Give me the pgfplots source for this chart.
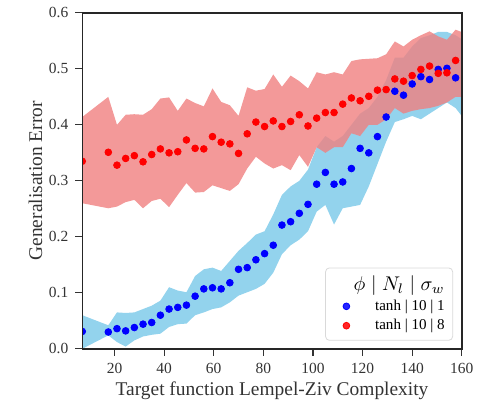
\documentclass[border=0pt]{standalone}
\usepackage{fontspec}
\setmainfont{Liberation Serif}
\usepackage{pgfplots}
\usepackage{pgfplotstable}
\pgfplotsset{compat=1.18}
\pgfplotsset{/pgf/number format/assume math mode=true}
\usepgfplotslibrary{fillbetween}
\definecolor{bandblue}{RGB}{135,206,235}
\definecolor{bandred}{RGB}{240,128,128}

\pgfplotstableread{
x     m      lo     hi
7     0.031  0.000  0.060
17.5  0.030  0.024  0.042
21    0.036  0.012  0.065
24.5  0.032  0.004  0.064
28    0.038  0.015  0.065
31.5  0.044  0.022  0.071
35    0.047  0.025  0.077
38.5  0.060  0.027  0.086
42    0.071  0.039  0.110
45.5  0.074  0.044  0.104
49    0.078  0.045  0.101
52.5  0.094  0.060  0.130
56    0.107  0.065  0.142
59.5  0.109  0.071  0.145
63    0.107  0.074  0.139
66.5  0.118  0.083  0.157
70    0.142  0.095  0.175
73.5  0.145  0.101  0.189
77    0.159  0.107  0.204
80.5  0.170  0.116  0.210
84    0.185  0.136  0.240
87.5  0.221  0.169  0.275
91    0.227  0.185  0.290
94.5  0.242  0.195  0.300
98    0.258  0.210  0.320
101.5 0.294  0.245  0.360
105   0.315  0.257  0.380
108.5 0.294  0.222  0.370
112   0.298  0.251  0.380
115.5 0.322  0.254  0.400
119   0.358  0.257  0.420
122.5 0.350  0.290  0.430
126   0.379  0.330  0.450
129.5 0.414  0.370  0.480
133   0.460  0.405  0.520
136.5 0.453  0.410  0.520
140   0.473  0.416  0.540
143.5 0.486  0.410  0.555
147   0.481  0.420  0.560
150.5 0.499  0.430  0.566
154   0.501  0.440  0.566
157.5 0.484  0.430  0.560
161   0.490  0.410  0.550
}\bluedata

\pgfplotstableread{
x     m      lo     hi
7     0.335  0.260  0.414
17.5  0.351  0.251  0.450
21    0.328  0.254  0.400
24.5  0.340  0.262  0.418
28    0.345  0.266  0.419
31.5  0.334  0.251  0.418
35    0.347  0.264  0.428
38.5  0.357  0.268  0.447
42    0.350  0.253  0.449
45.5  0.352  0.275  0.425
49    0.373  0.296  0.447
52.5  0.358  0.279  0.439
56    0.357  0.280  0.433
59.5  0.379  0.292  0.465
63    0.369  0.287  0.441
66.5  0.366  0.282  0.435
70    0.349  0.294  0.416
73.5  0.384  0.322  0.467
77    0.405  0.343  0.461
80.5  0.397  0.331  0.464
84    0.407  0.322  0.490
87.5  0.397  0.328  0.468
91    0.406  0.319  0.488
94.5  0.418  0.346  0.478
98    0.398  0.325  0.465
101.5 0.412  0.360  0.494
105   0.422  0.350  0.490
108.5 0.422  0.360  0.494
112   0.437  0.360  0.490
115.5 0.448  0.385  0.514
119   0.443  0.380  0.517
122.5 0.451  0.400  0.518
126   0.462  0.400  0.519
129.5 0.463  0.410  0.526
133   0.482  0.430  0.549
136.5 0.478  0.420  0.540
140   0.488  0.425  0.552
143.5 0.499  0.428  0.560
147   0.505  0.430  0.567
150.5 0.492  0.434  0.558
154   0.493  0.440  0.552
157.5 0.515  0.450  0.570
161   0.510  0.450  0.564
}\reddata

\begin{document}
\begin{tikzpicture}
\begin{axis}[
  scale only axis,
  width=191.5pt, height=169.5pt,
  axis lines=box,
  axis on top,
  xmin=7, xmax=160, ymin=0, ymax=0.6,
  xtick={20,40,...,160},
  ytick={0,0.1,...,0.6},
  yticklabel style={/pgf/number format/.cd,fixed,fixed zerofill,precision=1},
  tick label style={font=\fontsize{7.8}{9}\selectfont, color=black!80},
  label style={font=\fontsize{9.8}{11}\selectfont, color=black!80},
  xtick pos=left, ytick pos=left,
  axis line style={black!85, line width=0.75pt},
  tick style={black!80, line width=0.6pt},
  tick align=outside,
  major tick length=3.5pt,
  clip marker paths=true,
  xlabel={Target function Lempel-Ziv Complexity},
  ylabel={Generalisation Error},
  xlabel style={at={(axis description cs:0.5,-0.124)}, anchor=center},
  ylabel style={at={(axis description cs:-0.123,0.5)}, anchor=center},
  legend style={at={(0.977,0.024)}, anchor=south east, draw=black!15, rounded corners=2pt,
    fill=white, fill opacity=0.85, text opacity=1,
    font=\fontsize{7.6}{9.5}\selectfont, row sep=-1pt, inner sep=2pt},
  legend cell align=right,
]
\addplot[draw=none, forget plot, name path=blo] table[x=x, y=lo] {\bluedata};
\addplot[draw=none, forget plot, name path=bhi] table[x=x, y=hi] {\bluedata};
\addplot[bandblue, fill opacity=0.9, draw=none, forget plot] fill between[of=blo and bhi];
\addplot[draw=none, forget plot, name path=rlo] table[x=x, y=lo] {\reddata};
\addplot[draw=none, forget plot, name path=rhi] table[x=x, y=hi] {\reddata};
\addplot[bandred, fill opacity=0.8, draw=none, forget plot] fill between[of=rlo and rhi];

\addlegendimage{empty legend}
\addlegendentry{\fontsize{9.8}{11}\selectfont$\phi\mid N_l\mid\sigma_w$\hspace{0.4em}}
\addplot[only marks, mark=*, mark size=1.7pt, color=blue, mark options={draw=blue, fill=blue}] table[x=x, y=m] {\bluedata};
\addlegendentry{tanh | 10 | 1}
\addplot[only marks, mark=*, mark size=1.7pt, color=red, mark options={draw=red, fill=red}] table[x=x, y=m] {\reddata};
\addlegendentry{tanh | 10 | 8}
\end{axis}
\draw[black!85, line width=0.75pt] (current axis.south west) rectangle (current axis.north east);
\path (current axis.south west) ++(-41.5pt,-28.5pt) rectangle ([shift={(7pt,6.5pt)}]current axis.north east);
\end{tikzpicture}
\end{document}
